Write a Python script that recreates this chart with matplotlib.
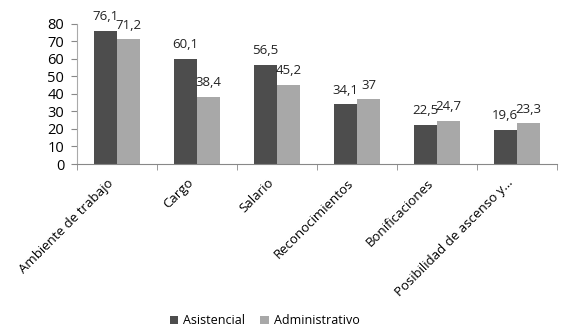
import matplotlib
matplotlib.use("Agg")
import matplotlib.pyplot as plt
import matplotlib.transforms as mtransforms
import numpy as np

categorias = ["Ambiente de trabajo", "Cargo", "Salario", "Reconocimientos",
              "Bonificaciones", "Posibilidad de ascenso y\u2026"]
asistencial = [76.1, 60.1, 56.5, 34.1, 22.5, 19.6]
administrativo = [71.2, 38.4, 45.2, 37, 24.7, 23.3]

plt.rcParams['font.family'] = ['Open Sans', 'DejaVu Sans']

fig = plt.figure(figsize=(5.82, 3.32), dpi=100)
ax = fig.add_axes([0.132, 0.506, 0.825, 0.422])

x = np.arange(len(categorias))
w = 0.29
b1 = ax.bar(x - w / 2, asistencial, w, color="#4d4d4d", label="Asistencial")
b2 = ax.bar(x + w / 2, administrativo, w, color="#a8a8a8", label="Administrativo")


def fmt(v):
    return f"{v:g}".replace(".", ",")


for bars, vals in [(b1, asistencial), (b2, administrativo)]:
    for rect, v in zip(bars, vals):
        ax.annotate(fmt(v), (rect.get_x() + rect.get_width() / 2, v),
                    xytext=(0, 5.5), textcoords="offset points",
                    ha="center", va="bottom", fontsize=9.5, color="#222222")

ax.set_xlim(-0.5, len(categorias) - 0.5)
ax.set_ylim(0, 80)
ax.set_yticks(range(0, 81, 10))
ax.tick_params(axis="y", labelsize=10.5, length=4, color="#888888", pad=5)

ax.set_xticks(x)
ax.set_xticklabels(categorias, rotation=45, ha="right", rotation_mode="anchor",
                   fontsize=9.5)
ax.tick_params(axis="x", length=0, pad=6)
shift = mtransforms.ScaledTranslation(-10 / 100, -4 / 100, fig.dpi_scale_trans)
for lbl in ax.get_xticklabels():
    lbl.set_transform(lbl.get_transform() + shift)
ax.set_xticks(np.arange(-0.5, len(categorias)), minor=True)
ax.tick_params(axis="x", which="minor", length=4, color="#888888")

for s in ["top", "right"]:
    ax.spines[s].set_visible(False)
ax.spines["left"].set_color("#aaaaaa")
ax.spines["bottom"].set_color("#888888")

fig.legend(loc="lower center", bbox_to_anchor=(0.455, -0.02), ncol=2, frameon=False,
           fontsize=9, handlelength=0.7, handleheight=0.7, handletextpad=0.4,
           columnspacing=1.2)

fig.savefig("out.png", dpi=100)
